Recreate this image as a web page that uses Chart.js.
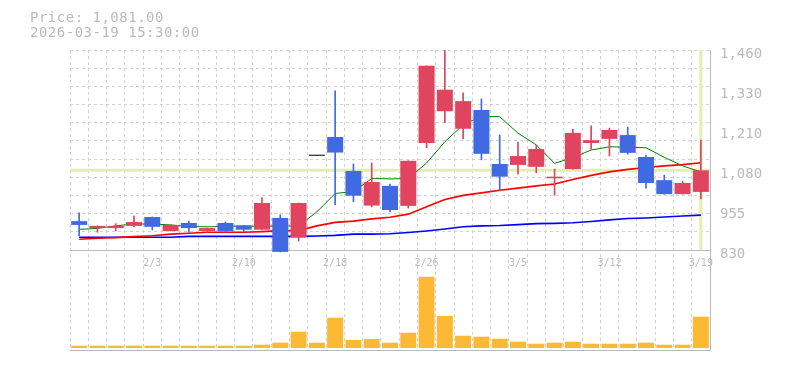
<!DOCTYPE html>
<html><head><meta charset="utf-8">
<script src="https://cdn.jsdelivr.net/npm/chart.js@4"></script>
<style>
html,body{margin:0;padding:0;background:#fff;}
#wrap{position:relative;width:785px;height:370px;overflow:hidden;}
canvas{position:absolute;left:0;top:0;}
.hdr{position:absolute;left:30px;font:14px/15px "DejaVu Sans Mono",monospace;letter-spacing:0.5px;color:#bbb;white-space:pre;}
</style></head><body>
<div id="wrap">
<canvas id="c" width="785" height="370"></canvas>
<div class="hdr" style="top:10px">Price: 1,081.00</div>
<div class="hdr" style="top:25px">2026-03-19 15:30:00</div>
</div>
<script>
const dates = ['1/28','1/29','1/30','2/2','2/3','2/4','2/5','2/6','2/9','2/10','2/12','2/13','2/16','2/17','2/18','2/19','2/20','2/24','2/25','2/26','2/27','3/2','3/3','3/4','3/5','3/6','3/9','3/10','3/11','3/12','3/13','3/16','3/17','3/18','3/19'];
const openP  = [921,899,899,906,934,890,915,890,915,907,894,931,869,1127,1186,1079,970,1032,969,1167,1267,1212,1271,1101,1098,1092,1056,1085,1167,1180,1192,1123,1050,1006,1013];
const highP  = [947,906,913,937,934,909,921,899,918,907,995,941,978,1127,1331,1101,1104,1038,1111,1410,1460,1325,1306,1192,1170,1161,1085,1211,1221,1214,1217,1129,1066,1047,1176];
const lowP   = [874,886,890,903,893,890,886,885,887,888,894,824,858,1127,973,982,966,950,962,1152,1231,1180,1114,1016,1069,1073,1003,1085,1148,1126,1132,1025,1006,1006,991];
const closeP = [909,906,906,918,903,909,899,899,889,894,978,824,978,1127,1137,1001,1044,956,1111,1410,1335,1299,1133,1061,1126,1148,1061,1199,1176,1208,1136,1041,1006,1041,1081];
const volume = [23,23,23,23,23,23,23,23,23,23,33,53,163,53,303,80,90,53,153,713,320,123,113,93,63,43,53,63,43,43,43,53,33,33,313];
const ma5  = [895,898,906,912,912,909,904,903,904,906,904,906,906,950,1008,1014,1055,1054,1055,1104,1171,1224,1252,1250,1198,1161,1103,1121,1145,1155,1154,1152,1122,1095,1076];
const ma25 = [864,867,869,872,875,880,883,886,886,886,888,891,891,906,917,921,928,933,943,966,989,1002,1010,1018,1025,1032,1038,1052,1065,1076,1084,1090,1095,1099,1105];
const ma75 = [870,870,870,870,870,870,873,873,873,873,873,873,873,874,876,880,880,881,885,890,896,903,906,907,910,913,914,916,920,925,929,931,934,937,940];
const tickDates = ['2/3','2/10','2/18','2/26','3/5','3/12','3/19'];
const priceTickValues = [830,956,1082,1208,1334,1460];
const priceTickLabels = ['830','955','1,080','1,210','1,330','1,460'];
const currentPrice = 1081;

const UP = '#e0445e', DOWN = '#4169e1', FLAT = '#000000';
const candleColor = openP.map((o,i)=> closeP[i] > o ? UP : (closeP[i] < o ? DOWN : FLAT));
const pMin = priceTickValues[0], pMax = priceTickValues[priceTickValues.length-1];
const GRID = '#d2d2d2', FRAME = '#bbbbbb', TXT = '#bbbbbb';

const highlight = {
  id: 'highlight',
  beforeDatasetsDraw(chart) {
    const {ctx, chartArea} = chart;
    const x = chart.scales.x, y = chart.scales.y;
    const py = y.getPixelForValue(currentPrice);
    const px = x.getPixelForValue(dates.length - 1);
    ctx.save();
    ctx.strokeStyle = '#e2f0ae';
    ctx.lineWidth = 3;
    ctx.beginPath();
    ctx.moveTo(chartArea.left, py); ctx.lineTo(chartArea.right, py);
    ctx.moveTo(px, chartArea.top); ctx.lineTo(px, y.getPixelForValue(pMin));
    ctx.stroke();
    ctx.restore();
  }
};

new Chart(document.getElementById('c'), {
  data: {
    labels: dates,
    datasets: [
      { type:'bar', data: openP.map((o,i)=>[o, closeP[i]]), backgroundColor: candleColor,
        barPercentage: 0.875, categoryPercentage: 1, grouped: false, minBarLength: 1, order: 0, yAxisID: 'y' },
      { type:'bar', data: lowP.map((l,i)=>[l, highP[i]]), backgroundColor: candleColor,
        barThickness: 1, grouped: false, order: 1, yAxisID: 'y' },
      { type:'line', data: ma5, borderColor:'#008000', borderWidth:1, pointRadius:0, order:2, yAxisID:'y' },
      { type:'line', data: ma25, borderColor:'#ff0000', borderWidth:1.6, pointRadius:0, order:3, yAxisID:'y' },
      { type:'line', data: ma75, borderColor:'#0000ff', borderWidth:1.6, pointRadius:0, order:4, yAxisID:'y' },
      { type:'bar', data: volume, backgroundColor:'#fdb933', barPercentage: 0.875, categoryPercentage: 1,
        grouped: false, order: 5, yAxisID: 'vol' }
    ]
  },
  options: {
    responsive: false, animation: false,
    layout: { padding: { left: 70, top: 50, right: 0, bottom: 20 } },
    plugins: { legend: { display: false }, tooltip: { enabled: false } },
    scales: {
      x: {
        type: 'category', offset: true, position: { g: 0 },
        grid: { offset: true, color: GRID, drawTicks: false },
        border: { display: false, dash: [3,3] },
        ticks: { autoSkip: false, maxRotation: 0, padding: 7, color: TXT,
          font: { family: 'DejaVu Sans Mono', size: 10 },
          callback: (v, i) => tickDates.includes(dates[i]) ? dates[i] : '' }
      },
      g: {
        type: 'linear', position: 'left', min: -5.5, max: 11,
        afterBuildTicks: s => { const t = [{value:-5.5}]; for (let k = 0; k <= 11; k++) t.push({value:k}); s.ticks = t; },
        afterFit: s => { s.width = 0; },
        grid: { color: c => (c.tick && c.tick.value <= 0) ? FRAME : GRID, drawTicks: false },
        border: { display: false, dash: c => (c.tick && c.tick.value <= 0) ? [] : [3,3] },
        ticks: { display: false }
      },
      y: {
        type: 'linear', position: 'right',
        min: pMin - (pMax - pMin) / 2, max: pMax,
        afterBuildTicks: s => { s.ticks = priceTickValues.map(v => ({ value: v })); },
        afterFit: s => { s.width = 75; },
        grid: { display: false, drawTicks: false },
        border: { display: true, color: FRAME, width: 1 },
        ticks: { padding: 10, labelOffset: 4, color: TXT, font: { family: 'DejaVu Sans Mono', size: 14 },
          callback: (v, i) => priceTickLabels[i] }
      },
      vol: { type: 'linear', display: false, min: -20, max: 2980 }
    }
  },
  plugins: [highlight]
});
</script>
</body></html>
